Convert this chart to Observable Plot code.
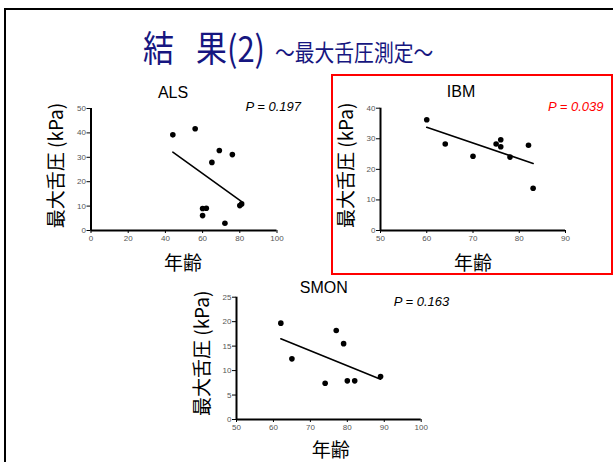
<!DOCTYPE html>
<html>
<head>
<meta charset="utf-8">
<script src="https://cdn.jsdelivr.net/npm/d3@7"></script>
<script src="https://cdn.jsdelivr.net/npm/@observablehq/plot@0.6"></script>
<style>
  html, body { margin: 0; padding: 0; background: #fff; }
  #slide { position: relative; width: 613px; height: 462px; overflow: hidden; background: #fff; }
  .abs { position: absolute; }
  .ttl { position: absolute; font-family: "Noto Sans CJK JP", sans-serif; color: #161680; line-height: 1; white-space: nowrap; transform-origin: 0 0; }
</style>
</head>
<body>
<div id="slide">
  <div class="abs" style="left:4px;top:8px;width:700px;height:600px;border:2.5px solid #000;box-sizing:border-box;"></div>
  <div class="abs" style="left:331px;top:74px;width:282px;height:201px;border:2.5px solid #ff0000;box-sizing:border-box;"></div>
  <span class="ttl" style="left:143px;top:28px;font-size:36px;transform:scaleX(0.86);">結</span>
  <span class="ttl" style="left:196px;top:28px;font-size:36px;transform:scaleX(0.86);">果(2)</span>
  <span class="ttl" style="left:275px;top:40px;font-size:23px;transform:scaleX(0.86);">～最大舌圧測定～</span>
</div>
<script>
// ---- data ----
const alsAge      = [44, 56, 69, 76, 65, 60, 62, 60, 72, 80, 81];
const alsPressure = [39.2, 41.7, 32.8, 31.1, 27.9, 9.0, 9.1, 6.1, 3.0, 10.2, 10.9];
const ibmAge      = [60, 64, 70, 75, 76, 76, 78, 82, 83];
const ibmPressure = [36.2, 28.3, 24.3, 28.3, 29.7, 27.4, 24.0, 27.9, 13.8];
const smonAge      = [62, 65, 74, 77, 79, 80, 82, 89];
const smonPressure = [19.7, 12.4, 7.4, 18.2, 15.5, 7.9, 7.9, 8.8];

const alsXTicks = [0, 20, 40, 60, 80, 100];
const alsYTicks = [0, 10, 20, 30, 40, 50];
const ibmXTicks = [50, 60, 70, 80, 90];
const ibmYTicks = [0, 10, 20, 30, 40];
const smonXTicks = [50, 60, 70, 80, 90, 100];
const smonYTicks = [0, 5, 10, 15, 20, 25];

const groupNames = ["ALS", "IBM", "SMON"];
const pValues = ["P = 0.197", "P = 0.039", "P = 0.163"];
const yTitle = "最大舌圧 (kPa)";
const xTitle = "年齢";

const CJK = "'Noto Sans CJK JP', sans-serif";
const LAT = "'Liberation Sans', Arial, sans-serif";

function panel(cfg) {
  const data = cfg.age.map((a, i) => ({age: a, kPa: cfg.pressure[i]}));
  const svg = Plot.plot({
    width: cfg.width, height: cfg.height,
    marginLeft: cfg.ml, marginRight: cfg.mr, marginTop: cfg.mt, marginBottom: cfg.mb,
    style: {background: "transparent", overflow: "visible", fontFamily: LAT},
    x: {domain: cfg.xDomain, label: null},
    y: {domain: cfg.yDomain, label: null},
    marks: [
      Plot.axisX({ticks: cfg.xTicks, tickSize: 3, tickPadding: 2, fontSize: 8, stroke: "#000", fill: "#555", label: null}),
      Plot.axisY({ticks: cfg.yTicks, tickSize: 4, tickPadding: 1, fontSize: 8, stroke: "#000", fill: "#555", label: null}),
      Plot.ruleX([cfg.xDomain[0]], {stroke: "#000", strokeWidth: 2}),
      Plot.ruleY([cfg.yDomain[0]], {stroke: "#000", strokeWidth: 2}),
      Plot.linearRegressionY(data, {x: "age", y: "kPa", stroke: "#000", strokeWidth: 1.6, ci: 0}),
      Plot.dot(data, {x: "age", y: "kPa", r: 2.8, fill: "#000", stroke: null}),
      Plot.text([cfg.name], {frameAnchor: "top", textAnchor: "middle", lineAnchor: "middle", dx: cfg.tdx, dy: cfg.tdy, fontSize: 16, fontFamily: LAT, fill: "#000"}),
      Plot.text([cfg.p], {frameAnchor: "top-right", textAnchor: "end", lineAnchor: "middle", dx: cfg.pdx, dy: cfg.pdy, fontSize: 13, fontStyle: "italic", fontFamily: LAT, fill: cfg.pColor}),
      Plot.text([yTitle], {frameAnchor: "left", textAnchor: "middle", lineAnchor: "middle", rotate: -90, dx: -34, dy: cfg.ydy, fontSize: 19, fontFamily: CJK, fill: "#000"}),
      Plot.text([xTitle], {frameAnchor: "bottom", textAnchor: "middle", lineAnchor: "middle", dx: cfg.xdx, dy: cfg.xdy, fontSize: 19, fontFamily: CJK, fill: "#000"})
    ]
  });
  svg.style.position = "absolute";
  svg.style.left = cfg.left + "px";
  svg.style.top = cfg.top + "px";
  svg.style.maxWidth = "none";
  document.getElementById("slide").appendChild(svg);
}

panel({name: groupNames[0], p: pValues[0], pColor: "#000", age: alsAge, pressure: alsPressure,
  xDomain: [0, 100], yDomain: [0, 50], xTicks: alsXTicks, yTicks: alsYTicks,
  left: 30, top: 75, width: 290, height: 205, ml: 60.5, mr: 43.5, mt: 33, mb: 50,
  tdx: -11, tdy: -16, pdx: 24, pdy: -2, ydy: -4, xdx: -1, xdy: 33});

panel({name: groupNames[1], p: pValues[1], pColor: "#ff0000", age: ibmAge, pressure: ibmPressure,
  xDomain: [50, 90], yDomain: [0, 40], xTicks: ibmXTicks, yTicks: ibmYTicks,
  left: 330, top: 75, width: 283, height: 205, ml: 50, mr: 48, mt: 32.7, mb: 50,
  tdx: -12, tdy: -16, pdx: 38, pdy: -1, ydy: -4, xdx: 0, xdy: 33});

panel({name: groupNames[2], p: pValues[2], pColor: "#000", age: smonAge, pressure: smonPressure,
  xDomain: [50, 100], yDomain: [0, 25], xTicks: smonXTicks, yTicks: smonYTicks,
  left: 180, top: 270, width: 270, height: 192, ml: 56, mr: 29.3, mt: 26.7, mb: 43,
  tdx: -5, tdy: -9, pdx: 28, pdy: 5, ydy: -5, xdx: 2, xdy: 31});
</script>
</body>
</html>
